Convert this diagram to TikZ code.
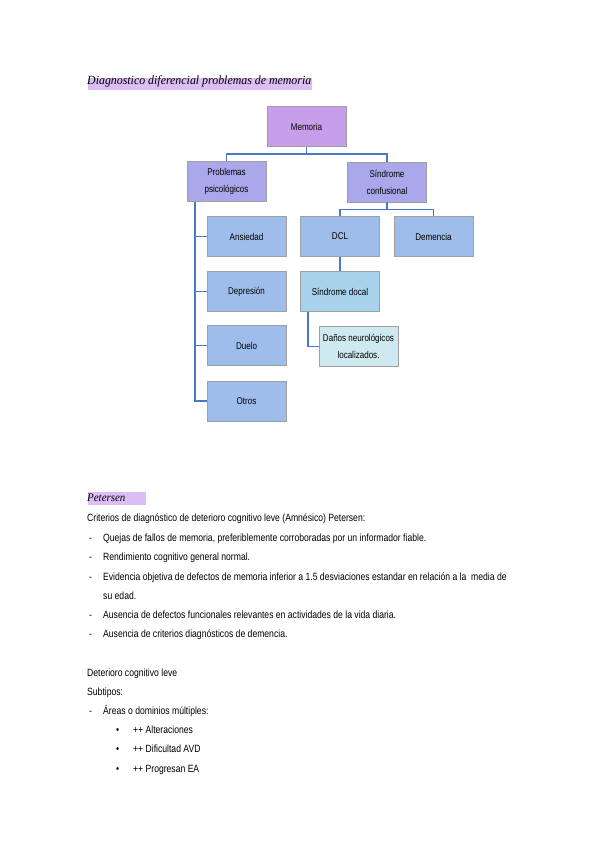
\documentclass[tikz,border=0pt]{standalone}
\usepackage{fontspec}
\setmainfont{Liberation Sans}[FakeStretch=0.82]
\newfontfamily\titlefont{Liberation Serif}[FakeStretch=0.95]
\usetikzlibrary{shadows}
\definecolor{cMem}{HTML}{C79EEA}
\definecolor{cLav}{HTML}{AAA8EA}
\definecolor{cBlue}{HTML}{9FBDEB}
\definecolor{cSky}{HTML}{A8D1EC}
\definecolor{cPale}{HTML}{CFE9F1}
\definecolor{cLine}{HTML}{4A78C4}
\definecolor{cHi}{HTML}{DDBDF5}
\definecolor{cBorder}{HTML}{A0A0A0}
\tikzset{
  box/.style={draw=cBorder, line width=0.7pt, minimum width=79pt, minimum height=40pt,
    align=center, font=\fontsize{9.8}{17}\selectfont, inner sep=2pt,
    drop shadow={opacity=0.18, shadow xshift=0.8pt, shadow yshift=-0.8pt}},
  conn/.style={draw=cLine, line width=1.5pt},
  txt/.style={anchor=base west, inner sep=0pt, font=\fontsize{10.5}{12}\selectfont},
  hi/.style={fill=cHi, draw=none}
}
\begin{document}
\begin{tikzpicture}[x=1pt,y=-1pt]
\useasboundingbox[fill=white] (0,0) rectangle (599,848);
% title
\fill[hi] (88,78) rectangle (312,90);
\node[anchor=base west, inner sep=0pt, font=\titlefont\itshape\fontsize{12.5}{14}\selectfont] (title) at (87,85) {Diagnostico diferencial problemas de memoria};
% boxes
\node[box, fill=cMem] (mem) at (306.5,126.5) {Memoria};
\node[box, fill=cLav] (prob) at (226.5,181.5) {Problemas\\psicológicos};
\node[box, fill=cLav] (sc) at (387,182) {Síndrome\\confusional};
\node[box, fill=cBlue] (ans) at (246.5,236.5) {Ansiedad};
\node[box, fill=cBlue] (dcl) at (340,236.5) {DCL};
\node[box, fill=cBlue] (dem) at (433.5,236.5) {Demencia};
\node[box, fill=cBlue] (dep) at (246.5,291.5) {Depresión};
\node[box, fill=cSky] (sf) at (340,291.5) {Síndrome docal};
\node[box, fill=cPale] (dan) at (358.5,346.5) {Daños neurológicos\\localizados.};
\node[box, fill=cBlue] (duelo) at (246.5,345.5) {Duelo};
\node[box, fill=cBlue] (otros) at (246.5,401) {Otros};
% connectors
\draw[conn] (mem.south) -- ++(0,7) -| (prob.north);
\draw[conn] (mem.south) -- ++(0,7) -| (sc.north);
\draw[conn] ([xshift=8.5pt]prob.south west) |- (ans.west);
\draw[conn] ([xshift=8.5pt]prob.south west) |- (dep.west);
\draw[conn] ([xshift=8.5pt]prob.south west) |- (duelo.west);
\draw[conn] ([xshift=8.5pt]prob.south west) |- (otros.west);
\draw[conn] (sc.south) -- ++(0,7) -| (dcl.north);
\draw[conn] (sc.south) -- ++(0,7) -| (dem.north);
\draw[conn] (dcl.south) -- (sf.north);
\draw[conn] ([xshift=8pt]sf.south west) |- (dan.west);
% Petersen
\fill[hi] (88,492) rectangle (146,505);
\node[anchor=base west, inner sep=0pt, font=\titlefont\itshape\fontsize{11.5}{13}\selectfont] (pet) at (87,501) {Petersen};
\node[txt] (t1) at (87,521) {Criterios de diagnóstico de deterioro cognitivo leve (Amnésico) Petersen:};
\node[txt] (d1) at (89,541) {-};
\node[txt] (t2) at (103,541) {Quejas de fallos de memoria, preferiblemente corroboradas por un informador fiable.};
\node[txt] (d2) at (89,560) {-};
\node[txt] (t3) at (103,560) {Rendimiento cognitivo general normal.};
\node[txt] (d3) at (89,580) {-};
\node[txt] (t4) at (103,580) {Evidencia objetiva de defectos de memoria inferior a 1.5 desviaciones estandar en relación a la \ media de};
\node[txt] (t4b) at (103,599) {su edad.};
\node[txt] (d4) at (89,618) {-};
\node[txt] (t5) at (103,618) {Ausencia de defectos funcionales relevantes en actividades de la vida diaria.};
\node[txt] (d5) at (89,637) {-};
\node[txt] (t6) at (103,637) {Ausencia de criterios diagnósticos de demencia.};
\node[txt] (t7) at (87,676) {Deterioro cognitivo leve};
\node[txt] (t8) at (87,695) {Subtipos:};
\node[txt] (d6) at (89,714) {-};
\node[txt] (t9) at (103,714) {Áreas o dominios múltiples:};
\node[txt] (b1) at (116,733) {\textbullet};
\node[txt] (t10) at (133,733) {++ Alteraciones};
\node[txt] (b2) at (116,752) {\textbullet};
\node[txt] (t11) at (133,752) {++ Dificultad AVD};
\node[txt] (b3) at (116,772) {\textbullet};
\node[txt] (t12) at (133,772) {++ Progresan EA};
\end{tikzpicture}
\end{document}
